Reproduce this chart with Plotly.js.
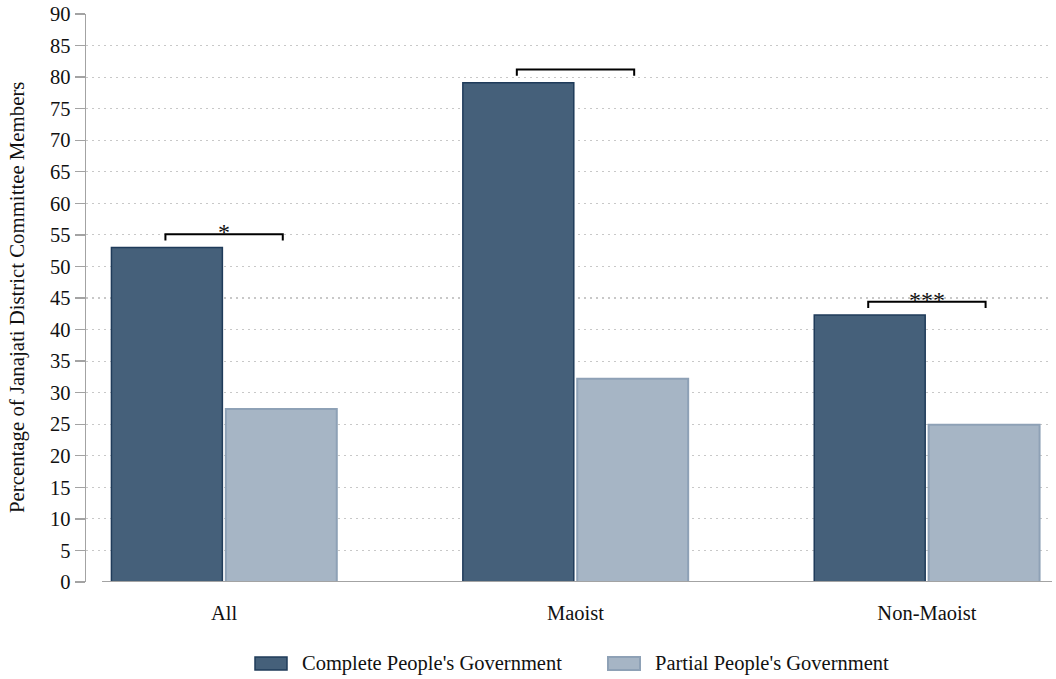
<!DOCTYPE html>
<html>
<head>
<meta charset="utf-8">
<script src="https://cdn.plot.ly/plotly-3.0.1.min.js"></script>
<style>
  html, body { margin: 0; padding: 0; background: #ffffff; }
  #chart { width: 1056px; height: 679px; }
</style>
</head>
<body>
<div id="chart"></div>
<script>
// Groups of district committees
const categories = ["All", "Maoist", "Non-Maoist"];

// Share of Janajati members (%) by type of People's Government
const seriesNames = ["Complete People's Government", "Partial People's Government"];
const completeValues = [53.0, 79.1, 42.3];
const partialValues = [27.4, 32.2, 24.9];

// Significance of the difference between the two bars in each group
const significance = ["*", "", "***"];

// Y axis ticks
const yTicks = [0, 5, 10, 15, 20, 25, 30, 35, 40, 45, 50, 55, 60, 65, 70, 75, 80, 85, 90];
const yTitle = "Percentage of Janajati District Committee Members";

const FONT = "Liberation Serif, Times New Roman, serif";
const FS = 20.5;
const darkFill = "#45607a", darkLine = "#1f3b5a";
const lightFill = "#a6b5c5", lightLine = "#8ea1b6";

const traces = [
  {
    type: "bar", name: seriesNames[0], x: categories, y: completeValues,
    marker: { color: darkFill, line: { color: darkLine, width: 1.5 } },
    showlegend: false, hoverinfo: "x+y"
  },
  {
    type: "bar", name: seriesNames[1], x: categories, y: partialValues,
    marker: { color: lightFill, line: { color: lightLine, width: 2 } },
    showlegend: false, hoverinfo: "x+y"
  }
];

// Brackets joining the two bars of each group, with their stars
const halfOffset = 0.167;   // centre of each bar relative to the group centre
const bracketGap = 2.1;     // bracket sits this far above the taller bar
const bracketDrop = 1.0;    // length of the bracket's end ticks
const shapes = [];
const annotations = [];
categories.forEach((c, i) => {
  const top = Math.max(completeValues[i], partialValues[i]) + bracketGap;
  const x0 = i - halfOffset, x1 = i + halfOffset;
  shapes.push({
    type: "path", xref: "x", yref: "y",
    path: `M ${x0} ${top - bracketDrop} L ${x0} ${top} L ${x1} ${top} L ${x1} ${top - bracketDrop}`,
    line: { color: "#000000", width: 2 }
  });
  if (significance[i]) {
    annotations.push({
      x: i, y: top, xref: "x", yref: "y", text: significance[i],
      showarrow: false, xanchor: "center", yanchor: "bottom", yshift: -13,
      font: { family: FONT, size: 24, color: "#111111" }
    });
  }
});

// Baseline under the bars
shapes.push({
  type: "line", xref: "paper", yref: "y", x0: 0.0166, x1: 1, y0: 0, y1: 0,
  line: { color: "#a3a3a3", width: 2 }, layer: "above"
});

// Layout box of the plot area, used to place the legend and axis title
const plotLeft = 86, plotWidth = 966, plotTop = 14, plotHeight = 568;
const px = v => (v - plotLeft) / plotWidth;
const py = v => 1 - (v - plotTop) / plotHeight;

// Y axis title
annotations.push({
  xref: "paper", yref: "paper", x: px(17), y: 0.5, textangle: -90,
  xanchor: "center", yanchor: "middle", showarrow: false,
  text: yTitle, font: { family: FONT, size: 20.8, color: "#111111" }
});

// Legend drawn below the plot
const legendItems = [
  { sx: 255, fill: darkFill, line: darkLine, lw: 1.5 },
  { sx: 608, fill: lightFill, line: lightLine, lw: 2 }
];
legendItems.forEach((it, k) => {
  shapes.push({
    type: "rect", xref: "paper", yref: "paper",
    x0: px(it.sx), x1: px(it.sx + 32), y0: py(670), y1: py(657),
    fillcolor: it.fill, line: { color: it.line, width: it.lw }
  });
  annotations.push({
    xref: "paper", yref: "paper", x: px(it.sx + 45), y: py(663.5),
    xanchor: "left", yanchor: "middle", showarrow: false,
    text: seriesNames[k], font: { family: FONT, size: FS, color: "#111111" }
  });
});

const layout = {
  width: 1056, height: 679,
  margin: { l: 86, r: 4, t: 14, b: 97 },
  paper_bgcolor: "#ffffff", plot_bgcolor: "#ffffff",
  font: { family: FONT, size: FS, color: "#111111" },
  barmode: "group", bargap: 0.349, bargroupgap: 0.03,
  xaxis: {
    type: "category", range: [-0.393, 2.356],
    showline: false, showgrid: false, zeroline: false, ticks: "",
    ticklabelstandoff: 16,
    tickfont: { family: FONT, size: FS, color: "#111111" }
  },
  yaxis: {
    range: [0, 90], tickmode: "array", tickvals: yTicks, ticktext: yTicks.map(String),
    showline: true, linecolor: "#a3a3a3", linewidth: 1.5,
    ticks: "outside", ticklen: 10, tickcolor: "#a3a3a3", tickwidth: 1.3,
    showgrid: true, gridcolor: "#c8c8c8", gridwidth: 1.2, griddash: "1.5px,4.5px",
    zeroline: false,
    tickfont: { family: FONT, size: FS, color: "#111111" }
  },
  shapes: shapes,
  annotations: annotations,
  showlegend: false
};

Plotly.newPlot("chart", traces, layout, { displayModeBar: false, staticPlot: true });
</script>
</body>
</html>
